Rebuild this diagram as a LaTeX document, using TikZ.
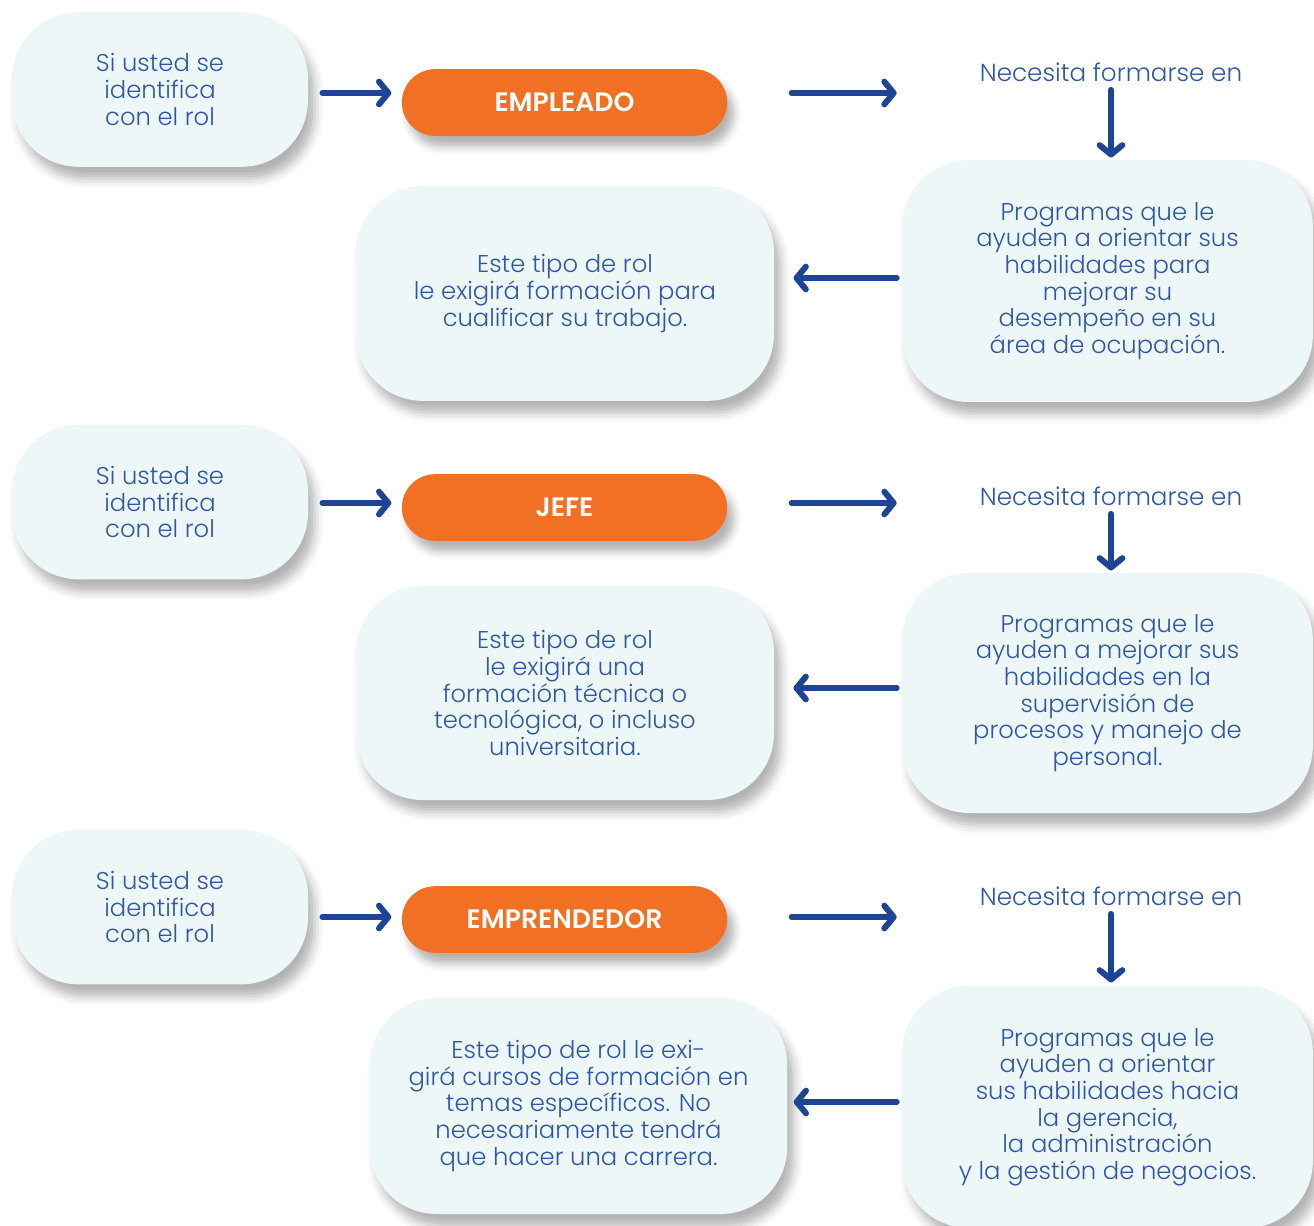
\documentclass[tikz,border=0pt]{standalone}
\usepackage{fontspec}
\setmainfont{Poppins}[UprightFont=* Light, BoldFont=* SemiBold]
\usetikzlibrary{arrows.meta,calc,shadows.blur}

\definecolor{txtblue}{RGB}{46,88,166}
\definecolor{arrblue}{RGB}{30,69,149}
\definecolor{boxfill}{RGB}{238,247,248}
\definecolor{rolorange}{RGB}{241,112,36}

\tikzset{every picture/.style={line width=0.75pt}}
\tikzset{
  softbox/.style={rectangle, rounded corners=50pt, fill=boxfill, draw=none,
    text=txtblue, align=center, font=\fontsize{18.2}{20}\selectfont,
    blur shadow={shadow xshift=5pt, shadow yshift=-9pt, shadow blur radius=7pt, shadow opacity=30}},
  rolepill/.style={rectangle, rounded corners=25pt, fill=rolorange, draw=none,
    text=white, font=\fontsize{20}{22}\selectfont\bfseries,
    minimum width=244pt, minimum height=50pt,
    blur shadow={shadow xshift=5pt, shadow yshift=-8pt, shadow blur radius=6pt, shadow opacity=30}},
  needtxt/.style={text=txtblue, font=\fontsize{18.5}{20}\selectfont, inner sep=0.75pt},
  flow/.style={draw=arrblue, line width=4.5pt, line cap=round,
    -{Straight Barb[length=7pt, width=17pt, round]}}
}

\begin{document}
\begin{tikzpicture}[x=0.75pt,y=0.75pt,yscale=-1,xscale=1]
\useasboundingbox (0,0) rectangle (1314,1226);
\clip (0,0) rectangle (1314,1226);

%%%%% EMPLEADO
% Text Node
\node [softbox, minimum width=222pt, minimum height=116pt] (role1) at (160,89.5) {Si usted se\\identifica\\con el rol};
% Text Node
\node [rolepill] (emp) at (564.5,102.5) {EMPLEADO};
% Text Node
\node [needtxt] (nec1) at (1111,72) {Necesita formarse en};
% Text Node
\node [softbox, minimum width=308pt, minimum height=181.5pt] (prog1) at (1107.5,281) {Programas que le\\ayuden a orientar sus\\habilidades para\\mejorar su\\desempeño en su\\área de ocupación.};
% Text Node
\node [softbox, minimum width=313.5pt, minimum height=161pt] (mid1) at (565,293.5) {Este tipo de rol\\le exigirá formación para\\cualificar su trabajo.};

%Straight Lines
\draw [flow] ($(role1.east)+(14,3.5)$) -- ($(emp.west |- role1.east)+(-10,3.5)$);
\draw [flow] ($(emp.east)+(64,-9.5)$) -- ($(prog1.west |- emp.east)+(-5,-9.5)$);
\draw [flow] ($(nec1.south -| 1111,0)+(0,7)$) -- ($(prog1.north -| 1111,0)+(0,-2)$);
\draw [flow] ($(prog1.west)+(-5,-3)$) -- ($(mid1.east |- prog1.west)+(19,-3)$);

%%%%% JEFE
% Text Node
\node [softbox, minimum width=222pt, minimum height=116pt] (role2) at (160,502) {Si usted se\\identifica\\con el rol};
% Text Node
\node [rolepill] (jefe) at (564.5,507.5) {JEFE};
% Text Node
\node [needtxt] (nec2) at (1111,496) {Necesita formarse en};
% Text Node
\node [softbox, minimum width=308pt, minimum height=180pt] (prog2) at (1107.5,693) {Programas que le\\ayuden a mejorar sus\\habilidades en la\\supervisión de\\procesos y manejo de\\personal.};
% Text Node
\node [softbox, minimum width=313.5pt, minimum height=160.5pt] (mid2) at (565,693) {Este tipo de rol\\le exigirá una\\formación técnica o\\tecnológica, o incluso\\universitaria.};

%Straight Lines
\draw [flow] ($(role2.east)+(14,1)$) -- ($(jefe.west |- role2.east)+(-10,1)$);
\draw [flow] ($(jefe.east)+(64,-4.5)$) -- ($(prog2.west |- jefe.east)+(-5,-4.5)$);
\draw [flow] ($(nec2.south -| 1111,0)+(0,7)$) -- ($(prog2.north -| 1111,0)+(0,-2)$);
\draw [flow] ($(prog2.west)+(-5,-5)$) -- ($(mid2.east |- prog2.west)+(19,-5)$);

%%%%% EMPRENDEDOR
% Text Node
\node [softbox, minimum width=222pt, minimum height=116pt] (role3) at (160,907) {Si usted se\\identifica\\con el rol};
% Text Node
\node [rolepill] (empr) at (564.5,919.5) {EMPRENDEDOR};
% Text Node
\node [needtxt] (nec3) at (1111,896) {Necesita formarse en};
% Text Node
\node [softbox, minimum width=308pt, minimum height=181.5pt] (prog3) at (1107.5,1107) {Programas que le\\ayuden a orientar\\sus habilidades hacia\\la gerencia,\\la administración\\y la gestión de negocios.};
% Text Node
\node [softbox, minimum width=313pt, minimum height=162pt] (mid3) at (578.5,1106) {Este tipo de rol le exi-\\girá cursos de formación en\\temas específicos. No\\necesariamente tendrá\\que hacer una carrera.};

%Straight Lines
\draw [flow] ($(role3.east)+(14,10)$) -- ($(empr.west |- role3.east)+(-10,10)$);
\draw [flow] ($(empr.east)+(64,-2.5)$) -- ($(prog3.west |- empr.east)+(-5,-2.5)$);
\draw [flow] ($(nec3.south -| 1111,0)+(0,7)$) -- ($(prog3.north -| 1111,0)+(0,-3)$);
\draw [flow] ($(prog3.west)+(-5,-5)$) -- ($(mid3.east |- prog3.west)+(6,-5)$);

\end{tikzpicture}
\end{document}
